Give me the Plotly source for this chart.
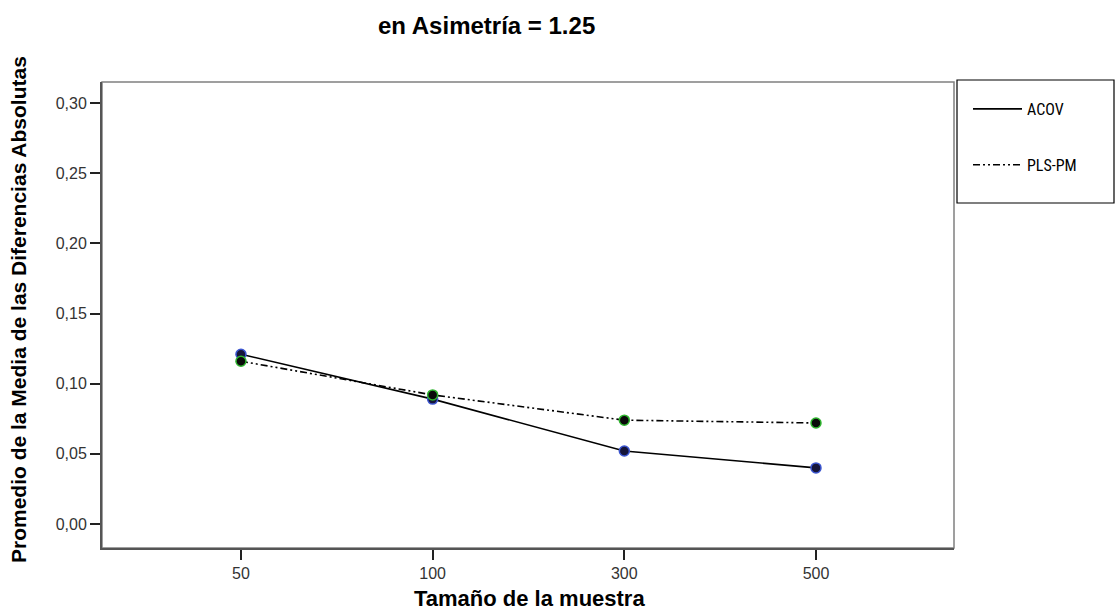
import plotly.graph_objects as go

# ---- data ----
categories = ["50", "100", "300", "500"]
acov = [0.121, 0.089, 0.052, 0.040]
pls_pm = [0.116, 0.092, 0.074, 0.072]
y_ticks = [0.00, 0.05, 0.10, 0.15, 0.20, 0.25, 0.30]

title_text = "en Asimetría = 1.25"
x_title = "Tamaño de la muestra"
y_title = "Promedio de la Media de las Diferencias Absolutas"

W, H = 1115, 612
L, R, T, B = 102, 161, 82, 64
pw, ph = W - L - R, H - T - B

def px_x(p):
    return (p - L) / pw

def px_y(p):
    return (H - B - p) / ph

fig = go.Figure()

narrow = "Liberation Sans Narrow, Arial Narrow, Roboto Condensed, Liberation Sans, sans-serif"
arial = "Liberation Sans, Arial, sans-serif"

# legend line traces
fig.add_trace(go.Scatter(x=categories, y=acov, mode="lines", name="ACOV",
                         line=dict(color="black", width=1.6), legendgroup="a"))
fig.add_trace(go.Scatter(x=categories, y=pls_pm, mode="lines", name="PLS-PM",
                         line=dict(color="black", width=1.6, dash="7px,3px,2px,3px,2px,3px"),
                         legendgroup="b"))
# markers
fig.add_trace(go.Scatter(x=categories, y=acov, mode="markers", showlegend=False,
                         marker=dict(size=10, color="#15153a",
                                     line=dict(color="#3b55d0", width=1.5))))
fig.add_trace(go.Scatter(x=categories, y=pls_pm, mode="markers", showlegend=False,
                         marker=dict(size=10, color="#0a0a0a",
                                     line=dict(color="#2fb52f", width=1.5))))

# frame of plot area
fig.add_shape(type="rect", xref="paper", yref="paper", x0=0, y0=0, x1=1, y1=1,
              line=dict(color="#808080", width=1.5), layer="below")
# legend box
fig.add_shape(type="rect", xref="paper", yref="paper",
              x0=px_x(957), x1=px_x(1114), y0=px_y(203), y1=px_y(80),
              line=dict(color="black", width=1.2))

fig.update_layout(
    width=W, height=H,
    margin=dict(l=L, r=R, t=T, b=B),
    paper_bgcolor="white", plot_bgcolor="white",
    separators=",.",
    showlegend=True,
    legend=dict(x=px_x(968), y=px_y(92), xanchor="left", yanchor="top",
                bgcolor="rgba(0,0,0,0)", borderwidth=0,
                font=dict(family=narrow, size=16, color="black"),
                tracegroupgap=32, itemwidth=49),
    xaxis=dict(type="category", range=[-0.725, 3.72], showgrid=False,
               showline=True, linecolor="#555555", linewidth=2,
               ticks="outside", ticklen=10, tickwidth=1.5, tickcolor="#222222",
               tickfont=dict(family=arial, size=16, color="#333333"),
               zeroline=False),
    yaxis=dict(range=[-0.0171, 0.315], showgrid=False, tickvals=y_ticks,
               tickformat=".2f",
               showline=True, linecolor="#555555", linewidth=2,
               ticks="outside", ticklen=10, tickwidth=1.5, tickcolor="#222222",
               tickfont=dict(family=arial, size=16, color="#333333"),
               zeroline=False),
    annotations=[
        dict(text="<b>" + title_text + "</b>", xref="paper", yref="paper",
             x=px_x(486), y=px_y(25), showarrow=False, xanchor="center", yanchor="middle",
             font=dict(family=arial, size=24, color="black")),
        dict(text="<b>" + x_title + "</b>", xref="paper", yref="paper",
             x=px_x(529), y=px_y(598), showarrow=False, xanchor="center", yanchor="middle",
             font=dict(family=arial, size=22, color="black")),
        dict(text="<b>" + y_title + "</b>", xref="paper", yref="paper",
             x=px_x(18), y=px_y(310), showarrow=False, xanchor="center", yanchor="middle",
             textangle=-90,
             font=dict(family=arial, size=21, color="black")),
    ],
)

fig.write_html("out.html")
